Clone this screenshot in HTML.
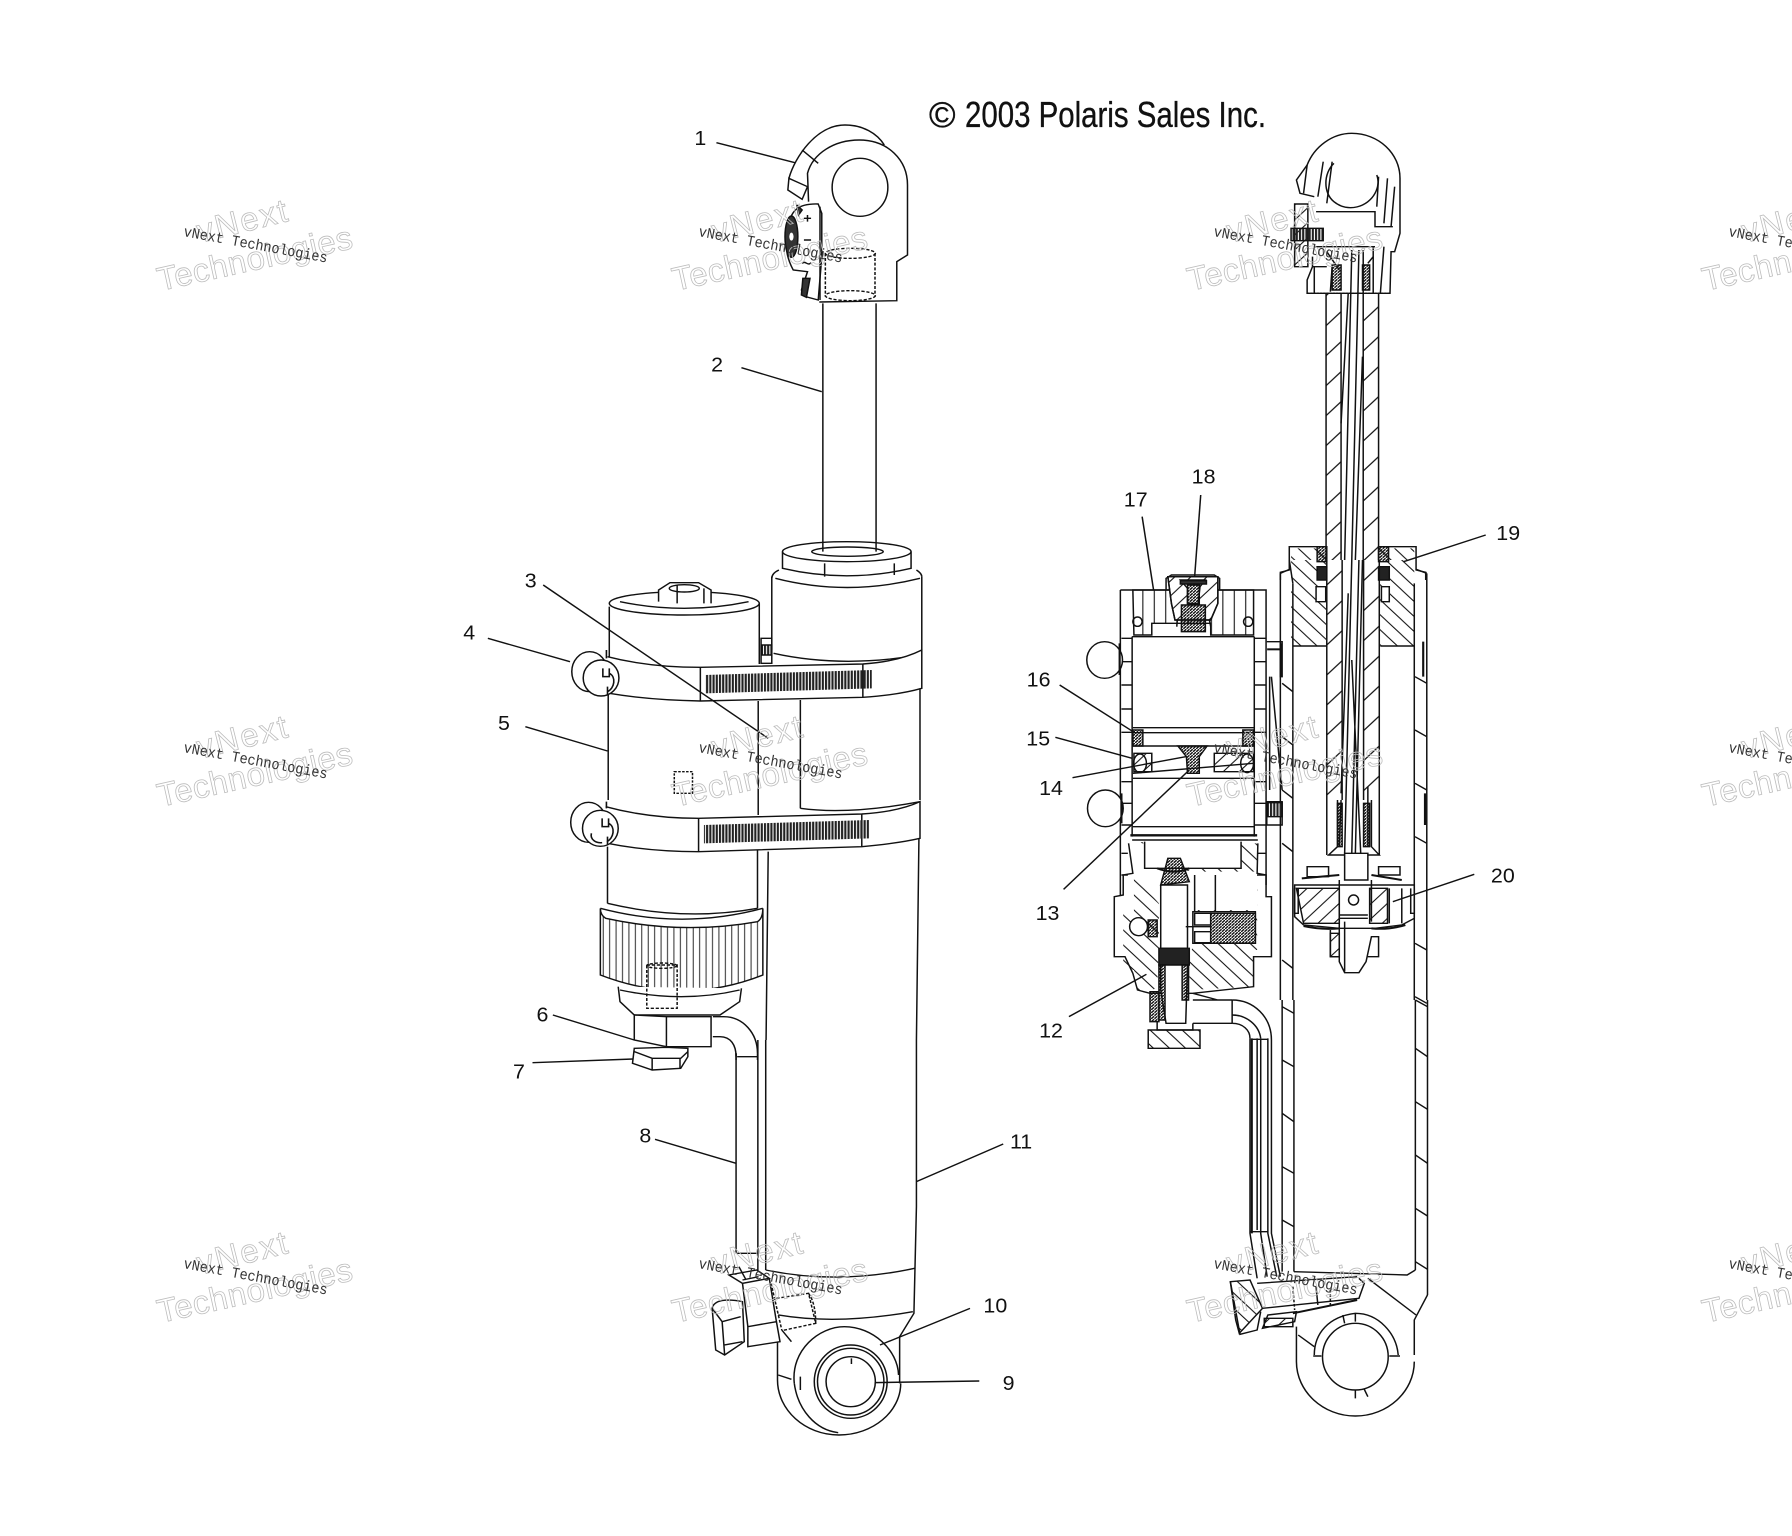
<!DOCTYPE html>
<html><head><meta charset="utf-8"><style>html,body{margin:0;padding:0;background:#fff}svg{display:block}</style></head><body>
<svg xmlns="http://www.w3.org/2000/svg" width="1792" height="1536" viewBox="0 0 1792 1536">
<defs>
<pattern id="hf" width="45" height="45" patternUnits="userSpaceOnUse"><path d="M-5-5L50 50M-5 40L5 50M40-5L50 5" stroke="#111" stroke-width="3"/></pattern>
<pattern id="hb" width="45" height="45" patternUnits="userSpaceOnUse"><path d="M-5 50L50-5M-5 5L5-5M40 50L50 40" stroke="#111" stroke-width="3"/></pattern>
<pattern id="hr" width="90" height="90" patternUnits="userSpaceOnUse"><path d="M-5 95L95-5" stroke="#111" stroke-width="3.5"/></pattern>
<pattern id="hd" width="9" height="9" patternUnits="userSpaceOnUse"><path d="M-2 11L11-2" stroke="#111" stroke-width="4"/></pattern>
<pattern id="hv" width="9" height="20" patternUnits="userSpaceOnUse"><rect width="6" height="20" fill="#222"/></pattern>
<pattern id="hk" width="18" height="20" patternUnits="userSpaceOnUse"><path d="M9 0V20" stroke="#111" stroke-width="2.5"/></pattern>
<pattern id="hc" width="32" height="140" patternUnits="userSpaceOnUse"><path d="M16 0V140" stroke="#111" stroke-width="3"/></pattern>
</defs>

<text x="929" y="127" font-family="Liberation Sans, sans-serif" font-size="36" fill="#111" stroke="#111" stroke-width=".35">©</text>
<text x="965" y="127" font-family="Liberation Sans, sans-serif" font-size="36" fill="#111" stroke="#111" stroke-width=".35" textLength="301" lengthAdjust="spacingAndGlyphs">2003 Polaris Sales Inc.</text>

<!-- Left assembly upper -->
<g transform="translate(420,90) scale(.35714,.33333)" fill="none" stroke="#111" stroke-width="4.2">
<path d="M1088 335L1085 250C1100 190 1160 150 1230 150C1310 150 1365 210 1365 285V495L1335 515V632L1118 636"/>
<path d="M1033 265C1050 200 1110 105 1190 105C1240 105 1280 130 1300 165"/>
<path d="M1033 265L1030 300L1070 328L1085 290ZM1070 180L1115 220"/>
<ellipse cx="1232" cy="292" rx="78" ry="87"/>
<path d="M1030 420C1035 360 1060 340 1115 342L1125 370V500L1115 630L1080 620L1068 600L1085 545L1045 540C1025 500 1020 460 1030 420Z" fill="#fff"/>
<ellipse cx="1040" cy="440" rx="18" ry="62" fill="#333"/>
<ellipse cx="1040" cy="440" rx="6" ry="12" fill="#fff" stroke="none"/>
<path d="M1055 345L1070 360L1060 375ZM1072 565L1068 615L1082 622L1092 565Z" fill="#333"/>
<path d="M1075 385H1095M1085 375V395M1075 450H1095M1070 520C1080 510 1085 530 1095 518M1120 350V630"/>
<ellipse cx="1205" cy="490" rx="70" ry="15" stroke-dasharray="9 5"/>
<ellipse cx="1205" cy="617" rx="70" ry="15" stroke-dasharray="9 5"/>
<path d="M1135 490V620M1274 490V620" stroke-dasharray="9 5"/>
<path d="M1128 640V1385M1277 640V1385"/>
<ellipse cx="1195" cy="1385" rx="180" ry="30"/>
<ellipse cx="1197" cy="1385" rx="100" ry="14"/>
<path d="M1015 1385V1435Q1195 1480 1375 1435V1385M1133 1420V1460M1328 1420V1455"/>
<path d="M985 1465Q985 1450 1005 1440M1405 1460Q1405 1450 1390 1440M995 1465Q1195 1520 1400 1465"/>
<text x="785" y="165" font-family="Liberation Sans, sans-serif" font-size="60" fill="#111" stroke="none" text-anchor="middle">1</text>
<path d="M830 158L1050 218"/>
<text x="832" y="845" font-family="Liberation Sans, sans-serif" font-size="60" fill="#111" stroke="none" text-anchor="middle">2</text>
<path d="M900 833L1125 905"/>
</g>

<!-- Left assembly middle -->
<g transform="translate(420,560) scale(.35714,.33333)" fill="none" stroke="#111" stroke-width="4.2">
<path d="M985 270V50M1405 270V50"/>
<path d="M955 235H985V310H955Z"/>
<path d="M958 255H985V285H958Z" fill="url(#hv)"/>
<path d="M990 280Q1180 325 1400 285" />
<ellipse cx="740" cy="130" rx="210" ry="35" fill="#fff"/>
<path d="M560 125Q740 165 920 125"/>
<path d="M668 125V90L700 68H780L815 90V130M720 75V130M795 85V130" fill="#fff"/>
<ellipse cx="740" cy="85" rx="42" ry="11"/>
<path d="M530 140V290M950 130V312"/>
<path d="M525 290Q640 322 785 322L1240 312Q1340 305 1405 270V385Q1340 405 1240 412L785 423Q640 420 530 400" fill="#fff"/>
<path d="M785 322V423M1240 312V412"/>
<path d="M798 345L1265 330V385L798 400Z" fill="url(#hv)" stroke="none"/>
<path d="M527 400V720M947 423V765M1065 420V745M1400 385V720"/>
<path d="M1065 745Q1200 765 1400 725"/>
<path d="M520 740Q640 775 780 775L1237 762Q1340 755 1400 725V835Q1340 850 1237 860L780 875Q640 875 525 850" fill="#fff"/>
<path d="M780 775V875M1237 762V860"/>
<path d="M795 795L1258 780V835L795 850Z" fill="url(#hv)" stroke="none"/>
<ellipse cx="475" cy="335" rx="50" ry="60" fill="#fff"/>
<ellipse cx="507" cy="354" rx="50" ry="54" fill="#fff"/>
<path d="M512 325V350H530V325M530 340C550 350 545 385 525 395M522 270V295M525 380V405" stroke-width="4.5"/>
<ellipse cx="472" cy="787" rx="50" ry="60" fill="#fff"/>
<ellipse cx="505" cy="805" rx="50" ry="54" fill="#fff"/>
<path d="M510 775V800H528V775M528 790C548 800 543 835 523 845M480 820C475 840 495 850 510 848M522 725V745M525 830V855" stroke-width="4.5"/>
<path d="M525 860V1030M945 870V1045"/>
<path d="M525 1030Q740 1085 945 1045"/>
<path d="M505 1045V1245Q735 1340 960 1245V1045Q960 1075 945 1085Q735 1125 520 1075Q505 1065 505 1045Z" fill="url(#hk)"/>
<path d="M505 1045Q735 1110 960 1045"/>
<path d="M555 1280L560 1325L600 1365H840L895 1325L900 1285" fill="#fff"/>
<path d="M560 1290Q735 1330 895 1290"/>
<path d="M635 1215H720V1345H635Z" stroke-dasharray="9 5"/>
<ellipse cx="677" cy="1217" rx="42" ry="8" stroke-dasharray="9 5"/>
<path d="M600 1365V1440L690 1460H815V1370H690L600 1365M690 1370V1460" fill="#fff"/>
<path d="M600 1465L595 1510L650 1530L730 1525L750 1490V1465L690 1462Z" fill="#fff"/>
<path d="M600 1475L650 1495H730L750 1475M650 1495V1530M728 1495V1525"/>
<path d="M820 1370H850C905 1370 945 1420 945 1480M820 1430H840C870 1430 885 1455 885 1490V1480M888 1490H945"/>
<path d="M945 1480V1500M885 1480V1500"/>
<path d="M975 875L969 1440M1397 835L1390 1440"/>
<text x="310" y="82" font-family="Liberation Sans, sans-serif" font-size="60" fill="#111" stroke="none" text-anchor="middle">3</text>
<path d="M345 75L975 535"/>
<text x="138" y="238" font-family="Liberation Sans, sans-serif" font-size="60" fill="#111" stroke="none" text-anchor="middle">4</text>
<path d="M190 235L420 305"/>
<text x="235" y="510" font-family="Liberation Sans, sans-serif" font-size="60" fill="#111" stroke="none" text-anchor="middle">5</text>
<path d="M295 500L525 573"/>
<text x="343" y="1385" font-family="Liberation Sans, sans-serif" font-size="60" fill="#111" stroke="none" text-anchor="middle">6</text>
<path d="M372 1365L600 1440"/>
<text x="277" y="1555" font-family="Liberation Sans, sans-serif" font-size="60" fill="#111" stroke="none" text-anchor="middle">7</text>
<path d="M315 1508L597 1497"/>
<path d="M712 635H763V700H712Z" stroke-dasharray="7 4"/>
</g>

<!-- Left assembly lower -->
<g transform="translate(480,1040) scale(.35714,.33333)" fill="none" stroke="#111" stroke-width="4.2">
<path d="M800 0V690M1222 0V500L1215 820L1175 890V1030M717 40V640M778 0V690"/>
<path d="M800 690Q1000 735 1217 685"/>
<path d="M835 825Q1000 855 1212 815"/>
<path d="M833 870V1020C833 1110 910 1185 1005 1185C1100 1185 1178 1115 1178 1030"/>
<path d="M880 1030C870 930 950 860 1020 860C1100 860 1170 930 1172 1005"/>
<path d="M1003 1178C940 1170 890 1110 880 1030"/>
<ellipse cx="1038" cy="1025" rx="102" ry="110"/><ellipse cx="1038" cy="1025" rx="93" ry="100"/><ellipse cx="1038" cy="1025" rx="69" ry="75"/>
<path d="M1040 955V972M897 1010V1050M835 1005L872 1018M845 870L872 905"/>
<path d="M697 705L735 730L810 715L775 690ZM735 730L750 860L830 845L810 715M750 860V920L840 905L830 845" fill="#fff"/>
<path d="M720 640H778M735 720L780 710M725 680L745 720"/>
<path d="M650 805C655 780 690 775 735 785L740 905L685 945L660 930Z" fill="#fff"/>
<path d="M650 805L678 845L730 830M678 845L685 945M735 905L685 915"/>
<path d="M830 775L920 760L940 850L845 872M920 760Q940 790 940 850M815 730L845 870" stroke-dasharray="9 5"/>
<text x="463" y="307" font-family="Liberation Sans, sans-serif" font-size="60" fill="#111" stroke="none" text-anchor="middle">8</text>
<path d="M490 298L717 370"/>
<text x="1515" y="325" font-family="Liberation Sans, sans-serif" font-size="60" fill="#111" stroke="none" text-anchor="middle">11</text>
<path d="M1465 312L1222 425"/>
<text x="1443" y="818" font-family="Liberation Sans, sans-serif" font-size="60" fill="#111" stroke="none" text-anchor="middle">10</text>
<path d="M1372 805L1120 915"/>
<text x="1480" y="1050" font-family="Liberation Sans, sans-serif" font-size="60" fill="#111" stroke="none" text-anchor="middle">9</text>
<path d="M1398 1023L1105 1028" stroke-width="4.5"/>
</g>

<!-- Right assembly upper -->
<g transform="translate(1000,90) scale(.35714,.33333)" fill="none" stroke="#111" stroke-width="4.2">
<path d="M880 320L840 310L830 270L860 225C880 170 930 130 985 130C1060 130 1120 190 1120 265V430L1105 485H1095L1092 610H860V570L875 530V500" />
<path d="M935 220C905 250 905 310 935 335C975 370 1030 350 1050 310C1060 290 1060 270 1055 255"/>
<path d="M885 365H1050V410H1100"/>
<path d="M860 225L850 310M905 215L890 320M930 215L915 340M1060 260L1055 350M1085 265L1075 400M1105 290L1095 410"/>
<path d="M825 342H862V530H825Z" fill="url(#hb)"/>
<path d="M815 415H905V452H815Z" fill="url(#hv)"/>
<path d="M880 470H1050M875 530H915M1075 470L1065 610M1045 470V610M880 530L880 610M930 530L925 605" />
<path d="M930 525H955V600H930Z" fill="url(#hd)"/><path d="M1015 525H1035V600H1015Z" fill="url(#hd)"/>
<path d="M915 485L950 540M1045 500L1030 520"/>
<path d="M860 610H1092" stroke-dasharray="6 3"/>
<path d="M913 610V1410M1060 610V1410M955 610V1410M1017 480V1410"/>
<path d="M913 610H955V1410H913Z" fill="url(#hr)" stroke="none"/>
<path d="M1017 610H1060V1410H1017Z" fill="url(#hr)" stroke="none"/>
<path d="M985 480L965 1410M1005 480L985 1410M975 610L955 1000M1015 800L995 1410"/>
<path d="M890 1370H810V1440L785 1447V1470M1065 1370H1165V1440L1192 1447V1470"/>
<path d="M815 1375H913V1410H815Z" fill="url(#hf)" stroke="none"/>
<path d="M1060 1375H1160V1410H1060Z" fill="url(#hf)" stroke="none"/>
<path d="M888 1370H915V1415H888Z" fill="url(#hd)"/>
<path d="M1060 1370H1088V1415H1060Z" fill="url(#hd)"/>
<text x="570" y="1180" font-family="Liberation Sans, sans-serif" font-size="60" fill="#111" stroke="none" text-anchor="middle">18</text>
<path d="M562 1215L545 1460"/>
<text x="380" y="1250" font-family="Liberation Sans, sans-serif" font-size="60" fill="#111" stroke="none" text-anchor="middle">17</text>
<path d="M398 1280L430 1500"/>
<text x="1423" y="1350" font-family="Liberation Sans, sans-serif" font-size="60" fill="#111" stroke="none" text-anchor="middle">19</text>
<path d="M1360 1335L1130 1415"/>
</g>

<!-- Right assembly middle -->
<g transform="translate(1000,560) scale(.35714,.33333)" fill="none" stroke="#111" stroke-width="4.2">
<path d="M785 40V1320M820 70V1320M1160 70V1320M1195 40V1320"/>
<path d="M820 258H915M1065 258H1160"/>
<path d="M810 0L820 70M785 40L810 28M1165 28L1195 40"/>
<path d="M815 0H913V258H815Z" fill="url(#hf)" stroke="none"/>
<path d="M1062 0H1160V258H1062Z" fill="url(#hf)" stroke="none"/>
<path d="M888 20H915V60H888Z" fill="#222"/><path d="M1060 20H1090V60H1060Z" fill="#222"/>
<path d="M885 80H912V125H885ZM1068 80H1090V125H1068Z" fill="#fff"/>
<path d="M790 370L820 395M790 530L820 555M790 690L820 715M790 850L820 875M790 1200L820 1225M1162 350L1195 370M1162 510L1195 530M1162 670L1195 690M1162 830L1195 850M1162 1150L1195 1170M1162 1310L1195 1330"/>
<path d="M1185 245V350M1190 700V795" stroke-width="6"/>
<path d="M915 0V885M1062 0V885M958 0V720M1018 0V720"/>
<path d="M915 258H958V720H915Z" fill="url(#hr)" stroke="none"/>
<path d="M1018 258H1062V720H1018Z" fill="url(#hr)" stroke="none"/>
<path d="M915 0H958V258H915Z" fill="url(#hr)" stroke="none"/>
<path d="M1018 0H1062V258H1018Z" fill="url(#hr)" stroke="none"/>
<path d="M985 0L965 880M1005 0L985 880M1015 0L995 880M985 300L1010 880M975 100L955 700"/>
<path d="M945 720V860L920 885H1062L1040 860V720M955 720L950 860M1030 680V860"/>
<path d="M945 730H958V860H945ZM1018 730H1035V860H1018Z" fill="url(#hd)"/>
<path d="M965 880H1030V960H965Z" fill="#fff"/>
<path d="M860 920H920V950H860ZM1060 920H1120V945H1060Z"/>
<path d="M845 955L950 945M1040 945L1125 960" stroke-width="6"/>
<path d="M825 975H1160V1075L1125 1095L1050 1105H950L850 1095L825 1070Z"/>
<path d="M830 985H950V1090H850Z" fill="url(#hb)"/>
<path d="M1035 985H1085V1090H1035Z" fill="url(#hb)"/>
<path d="M1090 985V1090M1125 985V1090M825 985V1060H835V985M1150 985V1060H1160V985"/>
<path d="M850 1098Q900 1110 950 1105M1040 1105Q1090 1110 1135 1095" stroke-width="6"/>
<ellipse cx="990" cy="1020" rx="14" ry="15"/>
<path d="M950 960V1085M1040 960V1085M950 1065H1030M950 1075H1030" />
<path d="M950 1085V1205L965 1238H1005L1025 1205L1040 1130H1060V1190H1030M925 1110V1190H950M965 1085V1235"/>
<path d="M925 1120H950V1190H925Z" fill="url(#hb)"/>
<!-- reservoir -->
<path d="M337 90H745V975M337 90V1005"/>
<path d="M370 230V830M712 230V830M370 230H712"/>
<path d="M372 90H710V225H590V190H425V225H375Z" fill="url(#hc)"/>
<path d="M465 88V55L480 45H600L615 55V88M480 60L500 120L495 200M600 60L575 120L590 200" />
<path d="M470 50H610V130L590 180H490L480 130Z" fill="#fff"/>
<path d="M470 50H610V130L590 180H490L480 130Z" fill="url(#hb)"/>
<path d="M505 60H575L560 80L555 130H525V85Z" fill="#fff"/>
<path d="M525 75H558V132H525Z" fill="url(#hd)"/><path d="M508 135H575V215H508Z" fill="url(#hd)"/>
<path d="M505 62H578V72H505Z" fill="#333"/>
<ellipse cx="385" cy="185" rx="13" ry="14"/><ellipse cx="695" cy="185" rx="13" ry="14"/>
<path d="M340 235H370M340 305H370M340 375H370M340 447H370M340 517H370M340 665H370M340 730H370M340 795H370M340 880H358M340 945H358M712 235H745M712 305H745M712 375H745M712 447H745M712 517H745M712 665H745M712 730H745M712 795H745M720 880H745M720 945H745"/>
<ellipse cx="293" cy="300" rx="50" ry="55" fill="#fff"/><ellipse cx="295" cy="745" rx="50" ry="55" fill="#fff"/>
<path d="M335 250V345M340 700V790" stroke-width="6"/>
<path d="M372 503H710M372 518H710M372 558H710M372 655H710M372 640L710 610"/>
<path d="M372 510H400V558H372ZM680 510H710V558H680Z" fill="url(#hd)"/>
<path d="M375 580H425V635H375ZM600 580H710V635H600Z" fill="url(#hb)"/>
<ellipse cx="392" cy="610" rx="18" ry="28"/><ellipse cx="692" cy="610" rx="18" ry="28"/>
<path d="M498 558H580L558 590V640H525L522 590Z" fill="url(#hd)"/>
<path d="M372 800H712"/>
<path d="M365 826H720" stroke-width="7"/><path d="M370 840H722"/>
<path d="M360 850L372 940L345 945V1005L320 1010V1190H350L372 1240L385 1290L420 1300H540L710 1280V1190H760V1010H745V945L720 940L722 850"/>
<path d="M405 845V925H675V845"/>
<path d="M372 850L405 845V925H450L550 935H720V1050H540V1150L530 1215V1290L710 1280V1170H720V1050H720L722 850H675V925H405V850Z" fill="url(#hf)" stroke="none"/>
<path d="M375 945L445 1030V1165L440 1280L420 1298L385 1290L375 1230H345V1060H375Z" fill="url(#hf)" stroke="none"/>
<path d="M450 975H525V1165H450Z" fill="#fff"/>
<path d="M445 1165H530V1215H445Z" fill="#222"/>
<path d="M450 1215H525L520 1390H465L450 1290Z" fill="#fff"/>
<path d="M445 1215H462V1380H445ZM510 1215H528V1320H510Z" fill="url(#hd)"/>
<path d="M470 895H505L530 965L450 975Z" fill="url(#hd)"/>
<path d="M440 925Q490 945 530 925" stroke-width="6"/>
<path d="M540 1055H715V1150H540Z" fill="#fff"/>
<path d="M590 1060H715V1150H590Z" fill="url(#hd)"/>
<path d="M545 1060H590V1095H545ZM545 1115H590V1148H545Z"/>
<path d="M520 1100H590"/>
<ellipse cx="388" cy="1100" rx="25" ry="27" fill="#fff"/>
<path d="M415 1080H440V1130H415Z" fill="url(#hd)"/>
<path d="M545 945V1055M603 945V1055"/>
<path d="M420 1295H445V1385H420Z" fill="url(#hd)"/>
<path d="M415 1410H560V1465H415Z" fill="url(#hf)"/>
<path d="M440 1385V1410H540V1390"/>
<path d="M540 1320H650M540 1390H650M650 1320V1390M540 1300L610 1320"/>
<path d="M747 245H790V350H785V245M755 350V690M747 725H790V795H747Z"/>
<path d="M750 728H790V770H750Z" fill="url(#hv)"/>
<path d="M748 268H790" stroke-width="6"/>
<path d="M788 250V350M760 350L790 690"/>
<text x="108" y="380" font-family="Liberation Sans, sans-serif" font-size="60" fill="#111" stroke="none" text-anchor="middle">16</text>
<path d="M167 375L380 520"/>
<text x="107" y="557" font-family="Liberation Sans, sans-serif" font-size="60" fill="#111" stroke="none" text-anchor="middle">15</text>
<path d="M155 532L370 595"/>
<text x="143" y="705" font-family="Liberation Sans, sans-serif" font-size="60" fill="#111" stroke="none" text-anchor="middle">14</text>
<path d="M203 653L520 590"/>
<text x="133" y="1080" font-family="Liberation Sans, sans-serif" font-size="60" fill="#111" stroke="none" text-anchor="middle">13</text>
<path d="M178 988L530 630"/>
<text x="1408" y="968" font-family="Liberation Sans, sans-serif" font-size="60" fill="#111" stroke="none" text-anchor="middle">20</text>
<path d="M1328 943L1100 1025"/>
<text x="143" y="1432" font-family="Liberation Sans, sans-serif" font-size="60" fill="#111" stroke="none" text-anchor="middle">12</text>
<path d="M193 1370L410 1243"/>
</g>

<!-- Right assembly lower -->
<g transform="translate(1000,1000) scale(.35714,.33333)" fill="none" stroke="#111" stroke-width="4.2">
<path d="M650 0C710 0 760 50 760 120V700L785 830M700 115V700L720 835M730 115V700L748 830M750 115V700L775 830M720 115V690"/>
<path d="M650 45C690 45 725 75 730 115M650 70C680 70 700 90 700 115"/>
<path d="M705 115V700" stroke-width="6"/>
<path d="M700 695H750M705 118H750"/>
<path d="M790 0V815M823 0V815M1163 0V810M1197 0V885"/>
<path d="M790 20L823 40M790 180L823 200M790 340L823 365M790 500L823 520M790 660L823 680M1163 0L1197 20M1163 145L1197 170M1163 305L1197 328M1163 465L1197 490M1163 625L1197 648M1163 785L1197 808"/>
<path d="M823 815L1140 825L1163 810"/>
<path d="M1197 885L1160 960V1065M1160 1085C1160 1175 1085 1248 995 1248C905 1248 830 1175 830 1085V980"/>
<path d="M1030 835L1165 945M835 1005L880 1040"/>
<ellipse cx="995" cy="1070" rx="92" ry="100"/>
<path d="M880 1065C880 1000 920 950 995 940C1060 940 1110 1000 1115 1065M877 1068H900M1090 1068H1120M960 945L965 970M995 942V965M995 1170V1195M1020 1168L1030 1190"/>
<path d="M645 845L700 840L735 925L670 1000L660 960Z" fill="url(#hf)"/>
<path d="M645 845L672 1003L720 990L730 935"/>
<path d="M735 925L1005 895L1020 850L1005 835M720 850L1000 830M735 985L825 965L830 935L750 945Z"/>
<path d="M740 955H820V980H740Z" fill="url(#hb)"/>
<path d="M820 940L1000 900" stroke-width="6"/>
<path d="M820 860L825 930M925 870V915" stroke-dasharray="8 5"/>
<path d="M885 860L890 915"/>
</g>

<!-- Watermarks -->
<g font-family="Liberation Sans, sans-serif" font-size="33">
<g>
<text transform="translate(200,243) rotate(-14)" textLength="92" fill="none" stroke="#bdbdbd" stroke-width=".8">vNext</text>
<text transform="translate(160,291) rotate(-12.5)" textLength="199" fill="none" stroke="#bdbdbd" stroke-width=".8">Technologies</text>
<text transform="translate(183,236) rotate(10.5)" textLength="146" lengthAdjust="spacingAndGlyphs" font-family="Liberation Mono, monospace" font-size="15" fill="#333">vNext Technologies</text>
</g>
<g transform="translate(515,0)">
<text transform="translate(200,243) rotate(-14)" textLength="92" fill="none" stroke="#bdbdbd" stroke-width=".8">vNext</text>
<text transform="translate(160,291) rotate(-12.5)" textLength="199" fill="none" stroke="#bdbdbd" stroke-width=".8">Technologies</text>
<text transform="translate(183,236) rotate(10.5)" textLength="146" lengthAdjust="spacingAndGlyphs" font-family="Liberation Mono, monospace" font-size="15" fill="#333">vNext Technologies</text>
</g>
<g transform="translate(1030,0)">
<text transform="translate(200,243) rotate(-14)" textLength="92" fill="none" stroke="#bdbdbd" stroke-width=".8">vNext</text>
<text transform="translate(160,291) rotate(-12.5)" textLength="199" fill="none" stroke="#bdbdbd" stroke-width=".8">Technologies</text>
<text transform="translate(183,236) rotate(10.5)" textLength="146" lengthAdjust="spacingAndGlyphs" font-family="Liberation Mono, monospace" font-size="15" fill="#333">vNext Technologies</text>
</g>
<g transform="translate(1545,0)">
<text transform="translate(200,243) rotate(-14)" textLength="92" fill="none" stroke="#bdbdbd" stroke-width=".8">vNext</text>
<text transform="translate(160,291) rotate(-12.5)" textLength="199" fill="none" stroke="#bdbdbd" stroke-width=".8">Technologies</text>
<text transform="translate(183,236) rotate(10.5)" textLength="146" lengthAdjust="spacingAndGlyphs" font-family="Liberation Mono, monospace" font-size="15" fill="#333">vNext Technologies</text>
</g>
<g transform="translate(0,516)">
<text transform="translate(200,243) rotate(-14)" textLength="92" fill="none" stroke="#bdbdbd" stroke-width=".8">vNext</text>
<text transform="translate(160,291) rotate(-12.5)" textLength="199" fill="none" stroke="#bdbdbd" stroke-width=".8">Technologies</text>
<text transform="translate(183,236) rotate(10.5)" textLength="146" lengthAdjust="spacingAndGlyphs" font-family="Liberation Mono, monospace" font-size="15" fill="#333">vNext Technologies</text>
</g>
<g transform="translate(515,516)">
<text transform="translate(200,243) rotate(-14)" textLength="92" fill="none" stroke="#bdbdbd" stroke-width=".8">vNext</text>
<text transform="translate(160,291) rotate(-12.5)" textLength="199" fill="none" stroke="#bdbdbd" stroke-width=".8">Technologies</text>
<text transform="translate(183,236) rotate(10.5)" textLength="146" lengthAdjust="spacingAndGlyphs" font-family="Liberation Mono, monospace" font-size="15" fill="#333">vNext Technologies</text>
</g>
<g transform="translate(1030,516)">
<text transform="translate(200,243) rotate(-14)" textLength="92" fill="none" stroke="#bdbdbd" stroke-width=".8">vNext</text>
<text transform="translate(160,291) rotate(-12.5)" textLength="199" fill="none" stroke="#bdbdbd" stroke-width=".8">Technologies</text>
<text transform="translate(183,236) rotate(10.5)" textLength="146" lengthAdjust="spacingAndGlyphs" font-family="Liberation Mono, monospace" font-size="15" fill="#333">vNext Technologies</text>
</g>
<g transform="translate(1545,516)">
<text transform="translate(200,243) rotate(-14)" textLength="92" fill="none" stroke="#bdbdbd" stroke-width=".8">vNext</text>
<text transform="translate(160,291) rotate(-12.5)" textLength="199" fill="none" stroke="#bdbdbd" stroke-width=".8">Technologies</text>
<text transform="translate(183,236) rotate(10.5)" textLength="146" lengthAdjust="spacingAndGlyphs" font-family="Liberation Mono, monospace" font-size="15" fill="#333">vNext Technologies</text>
</g>
<g transform="translate(0,1032)">
<text transform="translate(200,243) rotate(-14)" textLength="92" fill="none" stroke="#bdbdbd" stroke-width=".8">vNext</text>
<text transform="translate(160,291) rotate(-12.5)" textLength="199" fill="none" stroke="#bdbdbd" stroke-width=".8">Technologies</text>
<text transform="translate(183,236) rotate(10.5)" textLength="146" lengthAdjust="spacingAndGlyphs" font-family="Liberation Mono, monospace" font-size="15" fill="#333">vNext Technologies</text>
</g>
<g transform="translate(515,1032)">
<text transform="translate(200,243) rotate(-14)" textLength="92" fill="none" stroke="#bdbdbd" stroke-width=".8">vNext</text>
<text transform="translate(160,291) rotate(-12.5)" textLength="199" fill="none" stroke="#bdbdbd" stroke-width=".8">Technologies</text>
<text transform="translate(183,236) rotate(10.5)" textLength="146" lengthAdjust="spacingAndGlyphs" font-family="Liberation Mono, monospace" font-size="15" fill="#333">vNext Technologies</text>
</g>
<g transform="translate(1030,1032)">
<text transform="translate(200,243) rotate(-14)" textLength="92" fill="none" stroke="#bdbdbd" stroke-width=".8">vNext</text>
<text transform="translate(160,291) rotate(-12.5)" textLength="199" fill="none" stroke="#bdbdbd" stroke-width=".8">Technologies</text>
<text transform="translate(183,236) rotate(10.5)" textLength="146" lengthAdjust="spacingAndGlyphs" font-family="Liberation Mono, monospace" font-size="15" fill="#333">vNext Technologies</text>
</g>
<g transform="translate(1545,1032)">
<text transform="translate(200,243) rotate(-14)" textLength="92" fill="none" stroke="#bdbdbd" stroke-width=".8">vNext</text>
<text transform="translate(160,291) rotate(-12.5)" textLength="199" fill="none" stroke="#bdbdbd" stroke-width=".8">Technologies</text>
<text transform="translate(183,236) rotate(10.5)" textLength="146" lengthAdjust="spacingAndGlyphs" font-family="Liberation Mono, monospace" font-size="15" fill="#333">vNext Technologies</text>
</g>
</g>
</svg>
</body></html>
